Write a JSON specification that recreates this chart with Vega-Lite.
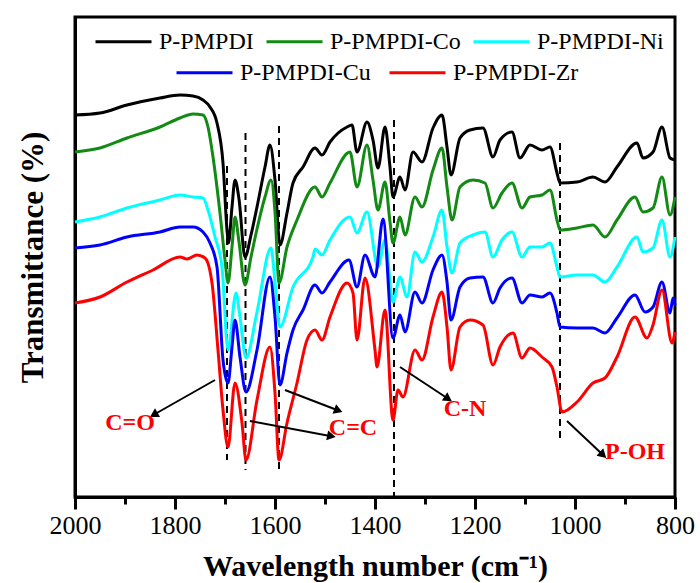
{
  "$schema": "https://vega.github.io/schema/vega-lite/v6.json",
  "width": 600,
  "height": 480,
  "autosize": {"type": "none"},
  "padding": {"left": 75, "top": 17, "right": 25, "bottom": 86},
  "config": {
    "view": {"stroke": "black", "strokeWidth": 3},
    "font": "Liberation Serif"
  },
  "datasets": {
    "spectraA": [
      {"s":"P-PMPDI","w":2000,"t":382},{"s":"P-PMPDI","w":1950,"t":384},{"s":"P-PMPDI","w":1896,"t":392},{"s":"P-PMPDI","w":1830,"t":399},{"s":"P-PMPDI","w":1790,"t":402},{"s":"P-PMPDI","w":1764,"t":401},{"s":"P-PMPDI","w":1744,"t":397},{"s":"P-PMPDI","w":1730,"t":390},{"s":"P-PMPDI","w":1716,"t":374},{"s":"P-PMPDI","w":1704,"t":334},{"s":"P-PMPDI","w":1696,"t":267},{"s":"P-PMPDI","w":1693,"t":254},{"s":"P-PMPDI","w":1686,"t":290},{"s":"P-PMPDI","w":1680,"t":317},{"s":"P-PMPDI","w":1672,"t":298},{"s":"P-PMPDI","w":1660,"t":240},{"s":"P-PMPDI","w":1648,"t":262},{"s":"P-PMPDI","w":1636,"t":290},{"s":"P-PMPDI","w":1620,"t":330},{"s":"P-PMPDI","w":1610,"t":352},{"s":"P-PMPDI","w":1600,"t":317},{"s":"P-PMPDI","w":1590,"t":252},{"s":"P-PMPDI","w":1576,"t":284},{"s":"P-PMPDI","w":1564,"t":314},{"s":"P-PMPDI","w":1544,"t":330},{"s":"P-PMPDI","w":1520,"t":349},{"s":"P-PMPDI","w":1506,"t":342},{"s":"P-PMPDI","w":1490,"t":355},{"s":"P-PMPDI","w":1456,"t":370},{"s":"P-PMPDI","w":1446,"t":372},{"s":"P-PMPDI","w":1436,"t":345},{"s":"P-PMPDI","w":1416,"t":375},{"s":"P-PMPDI","w":1404,"t":357},{"s":"P-PMPDI","w":1394,"t":329},{"s":"P-PMPDI","w":1380,"t":370},{"s":"P-PMPDI","w":1370,"t":330},{"s":"P-PMPDI","w":1364,"t":300},{"s":"P-PMPDI","w":1350,"t":320},{"s":"P-PMPDI","w":1340,"t":307},{"s":"P-PMPDI","w":1324,"t":345},{"s":"P-PMPDI","w":1306,"t":335},{"s":"P-PMPDI","w":1284,"t":369},{"s":"P-PMPDI","w":1266,"t":382},{"s":"P-PMPDI","w":1256,"t":350},{"s":"P-PMPDI","w":1248,"t":322},{"s":"P-PMPDI","w":1230,"t":359},{"s":"P-PMPDI","w":1210,"t":367},{"s":"P-PMPDI","w":1184,"t":369},{"s":"P-PMPDI","w":1164,"t":340},{"s":"P-PMPDI","w":1150,"t":357},{"s":"P-PMPDI","w":1126,"t":365},{"s":"P-PMPDI","w":1110,"t":339},{"s":"P-PMPDI","w":1090,"t":352},{"s":"P-PMPDI","w":1066,"t":347},{"s":"P-PMPDI","w":1050,"t":350},{"s":"P-PMPDI","w":1036,"t":324},{"s":"P-PMPDI","w":1030,"t":314},{"s":"P-PMPDI","w":996,"t":315},{"s":"P-PMPDI","w":964,"t":320},{"s":"P-PMPDI","w":940,"t":315},{"s":"P-PMPDI","w":916,"t":330},{"s":"P-PMPDI","w":876,"t":354},{"s":"P-PMPDI","w":864,"t":339},{"s":"P-PMPDI","w":844,"t":345},{"s":"P-PMPDI","w":826,"t":370},{"s":"P-PMPDI","w":810,"t":339},{"s":"P-PMPDI","w":800,"t":337},

      {"s":"P-PMPDI-Co","w":2000,"t":345},{"s":"P-PMPDI-Co","w":1950,"t":349},{"s":"P-PMPDI-Co","w":1896,"t":359},{"s":"P-PMPDI-Co","w":1830,"t":370},{"s":"P-PMPDI-Co","w":1790,"t":379},{"s":"P-PMPDI-Co","w":1764,"t":383},{"s":"P-PMPDI-Co","w":1744,"t":382},{"s":"P-PMPDI-Co","w":1734,"t":370},{"s":"P-PMPDI-Co","w":1724,"t":340},{"s":"P-PMPDI-Co","w":1710,"t":284},{"s":"P-PMPDI-Co","w":1700,"t":237},{"s":"P-PMPDI-Co","w":1694,"t":214},{"s":"P-PMPDI-Co","w":1686,"t":250},{"s":"P-PMPDI-Co","w":1680,"t":280},{"s":"P-PMPDI-Co","w":1672,"t":255},{"s":"P-PMPDI-Co","w":1660,"t":212},{"s":"P-PMPDI-Co","w":1648,"t":240},{"s":"P-PMPDI-Co","w":1636,"t":268},{"s":"P-PMPDI-Co","w":1620,"t":300},{"s":"P-PMPDI-Co","w":1608,"t":317},{"s":"P-PMPDI-Co","w":1600,"t":285},{"s":"P-PMPDI-Co","w":1592,"t":214},{"s":"P-PMPDI-Co","w":1576,"t":250},{"s":"P-PMPDI-Co","w":1556,"t":277},{"s":"P-PMPDI-Co","w":1520,"t":310},{"s":"P-PMPDI-Co","w":1506,"t":300},{"s":"P-PMPDI-Co","w":1490,"t":314},{"s":"P-PMPDI-Co","w":1450,"t":345},{"s":"P-PMPDI-Co","w":1436,"t":310},{"s":"P-PMPDI-Co","w":1416,"t":352},{"s":"P-PMPDI-Co","w":1404,"t":317},{"s":"P-PMPDI-Co","w":1394,"t":287},{"s":"P-PMPDI-Co","w":1380,"t":315},{"s":"P-PMPDI-Co","w":1370,"t":275},{"s":"P-PMPDI-Co","w":1364,"t":254},{"s":"P-PMPDI-Co","w":1350,"t":280},{"s":"P-PMPDI-Co","w":1340,"t":262},{"s":"P-PMPDI-Co","w":1320,"t":300},{"s":"P-PMPDI-Co","w":1306,"t":290},{"s":"P-PMPDI-Co","w":1284,"t":327},{"s":"P-PMPDI-Co","w":1266,"t":349},{"s":"P-PMPDI-Co","w":1256,"t":310},{"s":"P-PMPDI-Co","w":1246,"t":277},{"s":"P-PMPDI-Co","w":1230,"t":310},{"s":"P-PMPDI-Co","w":1204,"t":317},{"s":"P-PMPDI-Co","w":1180,"t":314},{"s":"P-PMPDI-Co","w":1164,"t":289},{"s":"P-PMPDI-Co","w":1146,"t":304},{"s":"P-PMPDI-Co","w":1126,"t":314},{"s":"P-PMPDI-Co","w":1106,"t":289},{"s":"P-PMPDI-Co","w":1090,"t":300},{"s":"P-PMPDI-Co","w":1066,"t":302},{"s":"P-PMPDI-Co","w":1050,"t":307},{"s":"P-PMPDI-Co","w":1036,"t":277},{"s":"P-PMPDI-Co","w":1030,"t":267},{"s":"P-PMPDI-Co","w":996,"t":269},{"s":"P-PMPDI-Co","w":964,"t":272},{"s":"P-PMPDI-Co","w":940,"t":260},{"s":"P-PMPDI-Co","w":916,"t":277},{"s":"P-PMPDI-Co","w":880,"t":300},{"s":"P-PMPDI-Co","w":864,"t":285},{"s":"P-PMPDI-Co","w":844,"t":289},{"s":"P-PMPDI-Co","w":826,"t":320},{"s":"P-PMPDI-Co","w":810,"t":282},{"s":"P-PMPDI-Co","w":800,"t":300},

      {"s":"P-PMPDI-Ni","w":2000,"t":275},{"s":"P-PMPDI-Ni","w":1950,"t":280},{"s":"P-PMPDI-Ni","w":1896,"t":289},{"s":"P-PMPDI-Ni","w":1830,"t":297},{"s":"P-PMPDI-Ni","w":1790,"t":302},{"s":"P-PMPDI-Ni","w":1764,"t":300},{"s":"P-PMPDI-Ni","w":1744,"t":299},{"s":"P-PMPDI-Ni","w":1734,"t":287},{"s":"P-PMPDI-Ni","w":1720,"t":260},{"s":"P-PMPDI-Ni","w":1706,"t":230},{"s":"P-PMPDI-Ni","w":1694,"t":147},{"s":"P-PMPDI-Ni","w":1678,"t":204},{"s":"P-PMPDI-Ni","w":1670,"t":180},{"s":"P-PMPDI-Ni","w":1658,"t":139},{"s":"P-PMPDI-Ni","w":1636,"t":185},{"s":"P-PMPDI-Ni","w":1608,"t":249},{"s":"P-PMPDI-Ni","w":1600,"t":215},{"s":"P-PMPDI-Ni","w":1590,"t":170},{"s":"P-PMPDI-Ni","w":1564,"t":210},{"s":"P-PMPDI-Ni","w":1524,"t":240},{"s":"P-PMPDI-Ni","w":1520,"t":248},{"s":"P-PMPDI-Ni","w":1506,"t":242},{"s":"P-PMPDI-Ni","w":1490,"t":257},{"s":"P-PMPDI-Ni","w":1450,"t":280},{"s":"P-PMPDI-Ni","w":1436,"t":264},{"s":"P-PMPDI-Ni","w":1416,"t":285},{"s":"P-PMPDI-Ni","w":1394,"t":230},{"s":"P-PMPDI-Ni","w":1380,"t":257},{"s":"P-PMPDI-Ni","w":1364,"t":195},{"s":"P-PMPDI-Ni","w":1350,"t":220},{"s":"P-PMPDI-Ni","w":1336,"t":200},{"s":"P-PMPDI-Ni","w":1320,"t":245},{"s":"P-PMPDI-Ni","w":1306,"t":235},{"s":"P-PMPDI-Ni","w":1284,"t":260},{"s":"P-PMPDI-Ni","w":1266,"t":287},{"s":"P-PMPDI-Ni","w":1256,"t":250},{"s":"P-PMPDI-Ni","w":1246,"t":224},{"s":"P-PMPDI-Ni","w":1230,"t":254},{"s":"P-PMPDI-Ni","w":1204,"t":262},{"s":"P-PMPDI-Ni","w":1180,"t":265},{"s":"P-PMPDI-Ni","w":1164,"t":240},{"s":"P-PMPDI-Ni","w":1146,"t":257},{"s":"P-PMPDI-Ni","w":1126,"t":265},{"s":"P-PMPDI-Ni","w":1106,"t":240},{"s":"P-PMPDI-Ni","w":1090,"t":250},{"s":"P-PMPDI-Ni","w":1066,"t":250},{"s":"P-PMPDI-Ni","w":1050,"t":254},{"s":"P-PMPDI-Ni","w":1036,"t":230},{"s":"P-PMPDI-Ni","w":1030,"t":220},{"s":"P-PMPDI-Ni","w":996,"t":222},{"s":"P-PMPDI-Ni","w":964,"t":222},{"s":"P-PMPDI-Ni","w":940,"t":215},{"s":"P-PMPDI-Ni","w":916,"t":230},{"s":"P-PMPDI-Ni","w":876,"t":260},{"s":"P-PMPDI-Ni","w":864,"t":245},{"s":"P-PMPDI-Ni","w":844,"t":249},{"s":"P-PMPDI-Ni","w":826,"t":277},{"s":"P-PMPDI-Ni","w":810,"t":240},{"s":"P-PMPDI-Ni","w":800,"t":260}
    ],
    "spectraB": [
      {"s":"P-PMPDI-Cu","w":2000,"t":249},{"s":"P-PMPDI-Cu","w":1950,"t":252},{"s":"P-PMPDI-Cu","w":1896,"t":260},{"s":"P-PMPDI-Cu","w":1830,"t":265},{"s":"P-PMPDI-Cu","w":1790,"t":270},{"s":"P-PMPDI-Cu","w":1764,"t":270},{"s":"P-PMPDI-Cu","w":1744,"t":265},{"s":"P-PMPDI-Cu","w":1730,"t":254},{"s":"P-PMPDI-Cu","w":1716,"t":230},{"s":"P-PMPDI-Cu","w":1704,"t":137},{"s":"P-PMPDI-Cu","w":1694,"t":114},{"s":"P-PMPDI-Cu","w":1686,"t":150},{"s":"P-PMPDI-Cu","w":1680,"t":177},{"s":"P-PMPDI-Cu","w":1670,"t":140},{"s":"P-PMPDI-Cu","w":1658,"t":105},{"s":"P-PMPDI-Cu","w":1636,"t":147},{"s":"P-PMPDI-Cu","w":1610,"t":220},{"s":"P-PMPDI-Cu","w":1600,"t":180},{"s":"P-PMPDI-Cu","w":1590,"t":112},{"s":"P-PMPDI-Cu","w":1576,"t":144},{"s":"P-PMPDI-Cu","w":1564,"t":167},{"s":"P-PMPDI-Cu","w":1544,"t":187},{"s":"P-PMPDI-Cu","w":1520,"t":212},{"s":"P-PMPDI-Cu","w":1506,"t":204},{"s":"P-PMPDI-Cu","w":1490,"t":215},{"s":"P-PMPDI-Cu","w":1452,"t":237},{"s":"P-PMPDI-Cu","w":1436,"t":210},{"s":"P-PMPDI-Cu","w":1420,"t":242},{"s":"P-PMPDI-Cu","w":1400,"t":220},{"s":"P-PMPDI-Cu","w":1384,"t":278},{"s":"P-PMPDI-Cu","w":1364,"t":159},{"s":"P-PMPDI-Cu","w":1350,"t":182},{"s":"P-PMPDI-Cu","w":1340,"t":165},{"s":"P-PMPDI-Cu","w":1320,"t":205},{"s":"P-PMPDI-Cu","w":1306,"t":194},{"s":"P-PMPDI-Cu","w":1284,"t":227},{"s":"P-PMPDI-Cu","w":1266,"t":242},{"s":"P-PMPDI-Cu","w":1256,"t":215},{"s":"P-PMPDI-Cu","w":1248,"t":177},{"s":"P-PMPDI-Cu","w":1230,"t":210},{"s":"P-PMPDI-Cu","w":1210,"t":219},{"s":"P-PMPDI-Cu","w":1184,"t":220},{"s":"P-PMPDI-Cu","w":1164,"t":194},{"s":"P-PMPDI-Cu","w":1150,"t":209},{"s":"P-PMPDI-Cu","w":1126,"t":219},{"s":"P-PMPDI-Cu","w":1106,"t":194},{"s":"P-PMPDI-Cu","w":1090,"t":202},{"s":"P-PMPDI-Cu","w":1066,"t":200},{"s":"P-PMPDI-Cu","w":1050,"t":204},{"s":"P-PMPDI-Cu","w":1036,"t":184},{"s":"P-PMPDI-Cu","w":1030,"t":170},{"s":"P-PMPDI-Cu","w":996,"t":169},{"s":"P-PMPDI-Cu","w":964,"t":169},{"s":"P-PMPDI-Cu","w":940,"t":164},{"s":"P-PMPDI-Cu","w":916,"t":179},{"s":"P-PMPDI-Cu","w":880,"t":202},{"s":"P-PMPDI-Cu","w":860,"t":185},{"s":"P-PMPDI-Cu","w":844,"t":190},{"s":"P-PMPDI-Cu","w":826,"t":215},{"s":"P-PMPDI-Cu","w":810,"t":184},{"s":"P-PMPDI-Cu","w":804,"t":199},{"s":"P-PMPDI-Cu","w":800,"t":192},

      {"s":"P-PMPDI-Zr","w":2000,"t":194},{"s":"P-PMPDI-Zr","w":1950,"t":200},{"s":"P-PMPDI-Zr","w":1896,"t":215},{"s":"P-PMPDI-Zr","w":1844,"t":227},{"s":"P-PMPDI-Zr","w":1790,"t":240},{"s":"P-PMPDI-Zr","w":1776,"t":238},{"s":"P-PMPDI-Zr","w":1756,"t":242},{"s":"P-PMPDI-Zr","w":1740,"t":239},{"s":"P-PMPDI-Zr","w":1726,"t":214},{"s":"P-PMPDI-Zr","w":1714,"t":147},{"s":"P-PMPDI-Zr","w":1704,"t":87},{"s":"P-PMPDI-Zr","w":1694,"t":50},{"s":"P-PMPDI-Zr","w":1680,"t":114},{"s":"P-PMPDI-Zr","w":1666,"t":74},{"s":"P-PMPDI-Zr","w":1658,"t":37},{"s":"P-PMPDI-Zr","w":1636,"t":97},{"s":"P-PMPDI-Zr","w":1610,"t":150},{"s":"P-PMPDI-Zr","w":1600,"t":104},{"s":"P-PMPDI-Zr","w":1592,"t":37},{"s":"P-PMPDI-Zr","w":1576,"t":74},{"s":"P-PMPDI-Zr","w":1556,"t":114},{"s":"P-PMPDI-Zr","w":1536,"t":157},{"s":"P-PMPDI-Zr","w":1520,"t":167},{"s":"P-PMPDI-Zr","w":1506,"t":157},{"s":"P-PMPDI-Zr","w":1490,"t":180},{"s":"P-PMPDI-Zr","w":1456,"t":214},{"s":"P-PMPDI-Zr","w":1444,"t":204},{"s":"P-PMPDI-Zr","w":1436,"t":157},{"s":"P-PMPDI-Zr","w":1420,"t":219},{"s":"P-PMPDI-Zr","w":1400,"t":147},{"s":"P-PMPDI-Zr","w":1396,"t":130},{"s":"P-PMPDI-Zr","w":1380,"t":187},{"s":"P-PMPDI-Zr","w":1364,"t":77},{"s":"P-PMPDI-Zr","w":1354,"t":107},{"s":"P-PMPDI-Zr","w":1344,"t":100},{"s":"P-PMPDI-Zr","w":1320,"t":147},{"s":"P-PMPDI-Zr","w":1306,"t":137},{"s":"P-PMPDI-Zr","w":1284,"t":180},{"s":"P-PMPDI-Zr","w":1266,"t":205},{"s":"P-PMPDI-Zr","w":1256,"t":170},{"s":"P-PMPDI-Zr","w":1248,"t":127},{"s":"P-PMPDI-Zr","w":1230,"t":170},{"s":"P-PMPDI-Zr","w":1210,"t":177},{"s":"P-PMPDI-Zr","w":1184,"t":172},{"s":"P-PMPDI-Zr","w":1164,"t":132},{"s":"P-PMPDI-Zr","w":1150,"t":150},{"s":"P-PMPDI-Zr","w":1124,"t":164},{"s":"P-PMPDI-Zr","w":1106,"t":139},{"s":"P-PMPDI-Zr","w":1090,"t":149},{"s":"P-PMPDI-Zr","w":1066,"t":140},{"s":"P-PMPDI-Zr","w":1046,"t":130},{"s":"P-PMPDI-Zr","w":1036,"t":110},{"s":"P-PMPDI-Zr","w":1026,"t":85},{"s":"P-PMPDI-Zr","w":996,"t":95},{"s":"P-PMPDI-Zr","w":964,"t":114},{"s":"P-PMPDI-Zr","w":940,"t":119},{"s":"P-PMPDI-Zr","w":916,"t":140},{"s":"P-PMPDI-Zr","w":880,"t":180},{"s":"P-PMPDI-Zr","w":856,"t":159},{"s":"P-PMPDI-Zr","w":844,"t":172},{"s":"P-PMPDI-Zr","w":826,"t":207},{"s":"P-PMPDI-Zr","w":806,"t":154},{"s":"P-PMPDI-Zr","w":800,"t":165}
    ],
    "dashes": [
      {"w":1696,"t":331,"t2":37},
      {"w":1659,"t":364,"t2":27},
      {"w":1592,"t":371,"t2":27},
      {"w":1362,"t":377,"t2":0},
      {"w":1030,"t":354,"t2":59}
    ],
    "arrows": [
      {"id":"CO","w":1720,"t":117,"w2":1840,"t2":83},
      {"id":"CC1","w":1580,"t":107,"w2":1476,"t2":87},
      {"id":"CC2","w":1650,"t":76,"w2":1490,"t2":61},
      {"id":"CN","w":1350,"t":130,"w2":1256,"t2":99},
      {"id":"POH","w":1016,"t":76,"w2":946,"t2":43}
    ],
    "labels": [
      {"label":"C=O","w":1890,"t":74},
      {"label":"C=C","w":1444,"t":69},
      {"label":"C-N","w":1220,"t":88},
      {"label":"P-OH","w":880,"t":45}
    ]
  },
  "encoding": {
    "x": {
      "field": "w", "type": "quantitative",
      "scale": {"domain": [800, 2000], "reverse": true, "nice": false, "zero": false},
      "axis": {
        "values": [2000,1900,1800,1700,1600,1500,1400,1300,1200,1100,1000,900,800],
        "format": "d",
        "labelExpr": "datum.value % 200 === 0 ? datum.label : ''",
        "labelOverlap": false,
        "labelFlush": false,
        "tickSize": {"condition": {"test": "datum.value % 200 === 0", "value": 12}, "value": 7},
        "tickWidth": 3, "tickColor": "black",
        "domainColor": "black", "domainWidth": 3,
        "grid": false,
        "labelFont": "Liberation Serif", "labelFontSize": 26, "labelColor": "black", "labelPadding": 3,
        "title": "Wavelength number (cm⁻¹)",
        "titleFont": "Liberation Serif", "titleFontSize": 30, "titleFontWeight": "bold", "titleColor": "black", "titlePadding": 13
      }
    },
    "y": {
      "field": "t", "type": "quantitative",
      "scale": {"domain": [0, 480], "nice": false, "zero": false},
      "axis": {
        "ticks": false, "labels": false, "grid": false,
        "domainColor": "black", "domainWidth": 3,
        "title": "Transmittance (%)",
        "titleFont": "Liberation Serif", "titleFontSize": 31, "titleFontWeight": "bold", "titleColor": "black", "titlePadding": 26
      }
    }
  },
  "layer": [
    {
      "data": {"name": "dashes"},
      "mark": {"type": "rule", "color": "black", "strokeWidth": 2, "strokeDash": [7, 5]},
      "encoding": {"y2": {"field": "t2"}}
    },
    {
      "data": {"name": "spectraA"},
      "mark": {"type": "line", "strokeWidth": 3, "interpolate": "monotone"},
      "encoding": {
        "color": {
          "field": "s", "type": "nominal",
          "scale": {"domain": ["P-PMPDI","P-PMPDI-Co","P-PMPDI-Ni"], "range": ["#000000","#138a13","#00ffff"]},
          "legend": {
            "orient": "none", "legendX": 19, "legendY": -5, "direction": "horizontal", "title": null,
            "symbolType": "stroke", "symbolSize": 3136, "symbolStrokeWidth": 3,
            "labelFont": "Liberation Serif", "labelFontSize": 24, "labelColor": "black",
            "labelOffset": 6, "columnPadding": 6
          }
        }
      }
    },
    {
      "data": {"name": "spectraB"},
      "mark": {"type": "line", "strokeWidth": 3, "interpolate": "monotone"},
      "encoding": {
        "color": {
          "field": "s", "type": "nominal",
          "scale": {"domain": ["P-PMPDI-Cu","P-PMPDI-Zr"], "range": ["#0000ff","#ff0000"]},
          "legend": {
            "orient": "none", "legendX": 100, "legendY": 26, "direction": "horizontal", "title": null,
            "symbolType": "stroke", "symbolSize": 3136, "symbolStrokeWidth": 3,
            "labelFont": "Liberation Serif", "labelFontSize": 24, "labelColor": "black",
            "labelOffset": 6, "columnPadding": 12
          }
        }
      }
    },
    {
      "data": {"name": "arrows"},
      "mark": {"type": "rule", "color": "black", "strokeWidth": 2},
      "encoding": {"x2": {"field": "w2"}, "y2": {"field": "t2"}}
    },
    {
      "data": {"name": "arrows"},
      "transform": [{"filter": "datum.id === 'CO'"}],
      "mark": {"type": "point", "shape": "triangle", "filled": true, "color": "black", "size": 100, "angle": 240, "opacity": 1},
      "encoding": {"x": {"field": "w2", "type": "quantitative"}, "y": {"field": "t2", "type": "quantitative"}}
    },
    {
      "data": {"name": "arrows"},
      "transform": [{"filter": "datum.id === 'CC1'"}],
      "mark": {"type": "point", "shape": "triangle", "filled": true, "color": "black", "size": 100, "angle": 111, "opacity": 1},
      "encoding": {"x": {"field": "w2", "type": "quantitative"}, "y": {"field": "t2", "type": "quantitative"}}
    },
    {
      "data": {"name": "arrows"},
      "transform": [{"filter": "datum.id === 'CC2'"}],
      "mark": {"type": "point", "shape": "triangle", "filled": true, "color": "black", "size": 100, "angle": 101, "opacity": 1},
      "encoding": {"x": {"field": "w2", "type": "quantitative"}, "y": {"field": "t2", "type": "quantitative"}}
    },
    {
      "data": {"name": "arrows"},
      "transform": [{"filter": "datum.id === 'CN'"}],
      "mark": {"type": "point", "shape": "triangle", "filled": true, "color": "black", "size": 100, "angle": 123, "opacity": 1},
      "encoding": {"x": {"field": "w2", "type": "quantitative"}, "y": {"field": "t2", "type": "quantitative"}}
    },
    {
      "data": {"name": "arrows"},
      "transform": [{"filter": "datum.id === 'POH'"}],
      "mark": {"type": "point", "shape": "triangle", "filled": true, "color": "black", "size": 100, "angle": 133, "opacity": 1},
      "encoding": {"x": {"field": "w2", "type": "quantitative"}, "y": {"field": "t2", "type": "quantitative"}}
    },
    {
      "data": {"name": "labels"},
      "mark": {"type": "text", "color": "#ff0000", "font": "Liberation Serif", "fontSize": 24, "fontWeight": "bold", "align": "center", "baseline": "middle"},
      "encoding": {"text": {"field": "label"}}
    }
  ],
  "resolve": {"scale": {"color": "independent"}, "legend": {"color": "independent"}}
}
